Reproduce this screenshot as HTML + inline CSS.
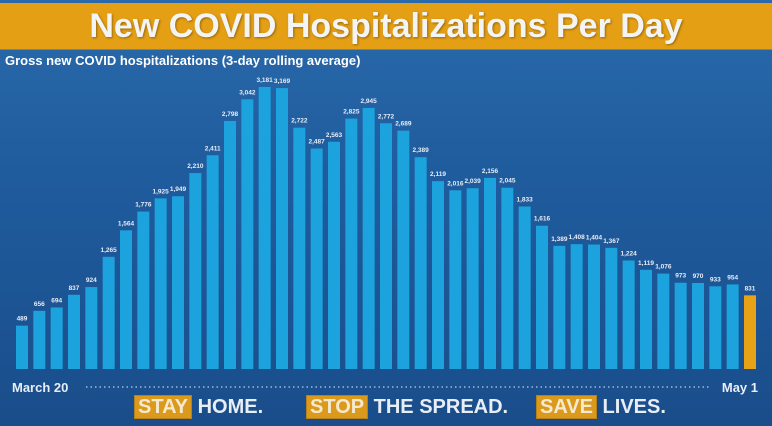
<!DOCTYPE html>
<html><head><meta charset="utf-8"><style>
body{margin:0;width:772px;height:426px;overflow:hidden;background:#1d5a9c;font-family:"Liberation Sans",sans-serif}
#bg{position:absolute;left:0;top:0;width:772px;height:426px;background:linear-gradient(180deg,#2a6aab 0%,#1f5c9e 40%,#1a4d8a 100%)}
#hdr{position:absolute;left:0;top:3px;width:772px;height:46px;background:#e49f14;border-bottom:1px solid #b77c0a;color:#f4f4f4;font-weight:bold;font-size:34px;text-align:center;line-height:46px;text-shadow:1px 1px 2px rgba(0,0,0,.35)}
#sub{position:absolute;left:5px;top:53px;color:#fff;font-weight:bold;font-size:13px}
.ft{position:absolute;top:396px;font-weight:bold;font-size:20px;color:#e8eef6}
.ft b{background:#dc9a1c;color:#f5e9d0;padding:0 3px;border:1px solid #b7801a}
</style></head><body>
<div id="bg"></div>
<div id="hdr">New COVID Hospitalizations Per Day</div>
<div id="sub">Gross new COVID hospitalizations (3-day rolling average)</div>
<svg id="c" width="772" height="426" style="position:absolute;left:0;top:0"></svg>
<div class="ft" style="left:134px"><b>STAY</b> HOME.</div>
<div class="ft" style="left:306px"><b>STOP</b> THE SPREAD.</div>
<div class="ft" style="left:536px"><b>SAVE</b> LIVES.</div>
<script>
const values=[489,656,694,837,924,1265,1564,1776,1925,1949,2210,2411,2798,3042,3181,3169,2722,2487,2563,2825,2945,2772,2689,2389,2119,2016,2039,2156,2045,1833,1616,1389,1408,1404,1367,1224,1119,1076,973,970,933,954,831];
const startLabel="March 20";
const endLabel="May 1";
const svg=document.getElementById('c');
const NS='http://www.w3.org/2000/svg';
const x0=16,pitch=(744-16)/42,bw=12,base=369,scale=282/3181;
const xs=i=>x0+i*pitch;
const ys=v=>base-v*scale;
values.forEach((v,i)=>{
  const r=document.createElementNS(NS,'rect');
  r.setAttribute('x',xs(i));r.setAttribute('y',ys(v));
  r.setAttribute('width',bw);r.setAttribute('height',base-ys(v));
  r.setAttribute('fill',i===values.length-1?'#e8a215':'#1ca3de');
  
  
  svg.appendChild(r);
  const t=document.createElementNS(NS,'text');
  t.setAttribute('x',xs(i)+bw/2);t.setAttribute('y',ys(v)-5);
  t.setAttribute('text-anchor','middle');t.setAttribute('font-size','6.5');
  t.setAttribute('font-weight','bold');t.setAttribute('fill','#e6eef8');
  t.setAttribute('font-family','Liberation Sans, sans-serif');
  t.textContent=v.toLocaleString('en-US');
  
  
  svg.appendChild(t);
});
const ln=document.createElementNS(NS,'line');
ln.setAttribute('x1',86);ln.setAttribute('x2',710);ln.setAttribute('y1',387);ln.setAttribute('y2',387);
ln.setAttribute('stroke','#9fb8d8');ln.setAttribute('stroke-width','1.5');ln.setAttribute('stroke-dasharray','1.5 3');


svg.appendChild(ln);
[[12,'start',startLabel,'x-label-start'],[758,'end',endLabel,'x-label-end']].forEach(a=>{
  const t=document.createElementNS(NS,'text');
  t.setAttribute('x',a[0]);t.setAttribute('y',392);t.setAttribute('text-anchor',a[1]);
  t.setAttribute('font-size','13');t.setAttribute('font-weight','bold');t.setAttribute('fill','#e6eef8');
  t.setAttribute('font-family','Liberation Sans, sans-serif');
  t.textContent=a[2];
  
  
  svg.appendChild(t);
});
</script>
</body></html>
